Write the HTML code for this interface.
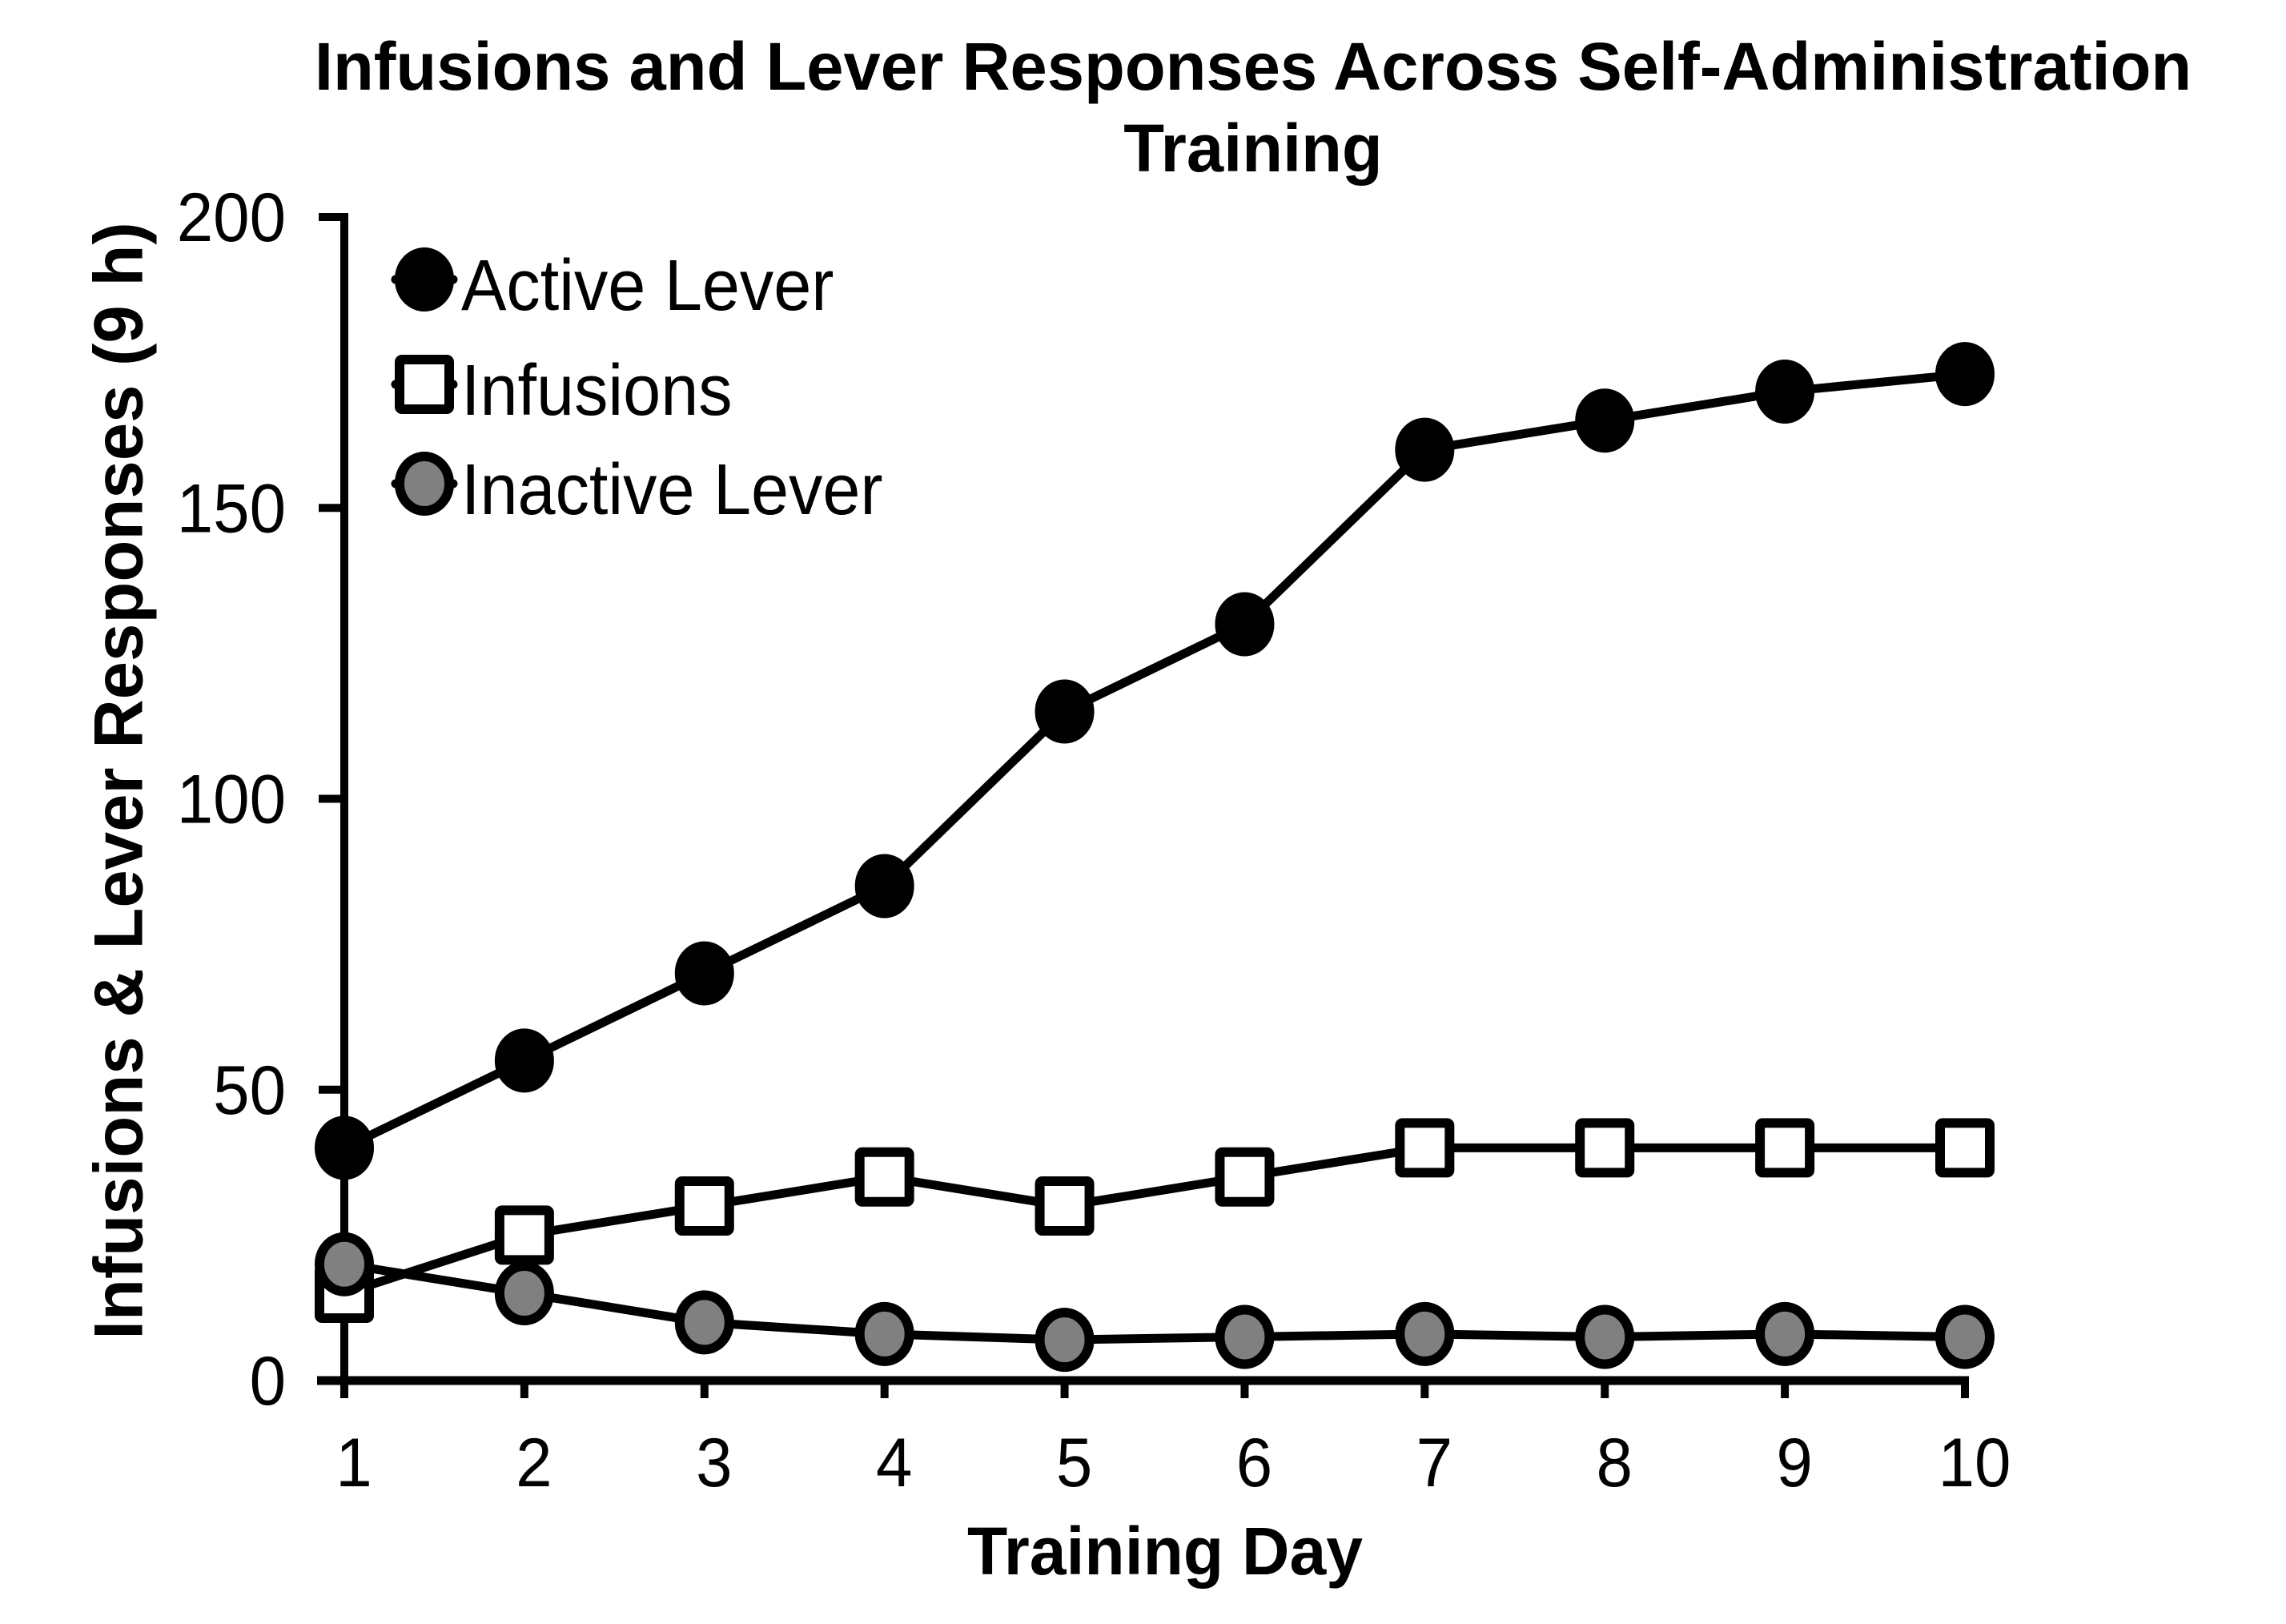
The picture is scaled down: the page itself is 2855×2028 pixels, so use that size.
<!DOCTYPE html>
<html><head><meta charset="utf-8"><style>
html,body{margin:0;padding:0;background:#fff;}
svg{display:block;font-family:"Liberation Sans",Arial,sans-serif;}
</style></head><body>
<svg id="chart" width="2855" height="2028" viewBox="0 0 2855 2028">
<text transform="translate(1565,112) scale(0.99,1)" text-anchor="middle" font-size="84" font-weight="bold">Infusions and Lever Responses Across Self-Administration</text>
<text transform="translate(1565,214) scale(0.99,1)" text-anchor="middle" font-size="84" font-weight="bold">Training</text>
<text transform="translate(1455,1966) scale(0.98,1)" text-anchor="middle" font-size="84" font-weight="bold">Training Day</text>
<text transform="translate(155,975) rotate(-90) scale(0.99,1)" text-anchor="middle" dominant-baseline="middle" font-size="86" font-weight="bold">Infusions &amp; Lever Responses (9 h)</text>
<g id="axes"></g>
<g id="series"></g>
<g id="legend"></g>
</svg>
<script>
const days = [1,2,3,4,5,6,7,8,9,10];
const activeLever = [40,55,70,85,115,130,160,165,170,173];
const infusions = [15,25,30,35,30,35,40,40,40,40];
const inactiveLever = [20,15,10,8,7,7.5,8,7.5,8,7.5];
const yTicks = [0,50,100,150,200];
const xTickLabels = ["1","2","3","4","5","6","7","8","9","10"];

const NS = "http://www.w3.org/2000/svg";
const X0 = 430, X1 = 2454, Y0 = 1724, Y1 = 271;
const xScale = d => X0 + (d - 1) / 9 * (X1 - X0);
const yScale = v => Y0 - v / 200 * (Y0 - Y1);
function mk(tag, attrs, parent){ const e = document.createElementNS(NS, tag); for (const k in attrs) e.setAttribute(k, attrs[k]); parent.appendChild(e); return e; }
const axes = document.getElementById('axes');
const ya = mk('line', {x1:X0,y1:Y1-5,x2:X0,y2:Y0+5,stroke:'#000','stroke-width':10}, axes);


const xa = mk('line', {x1:X0-34,y1:Y0,x2:X1+5,y2:Y0,stroke:'#000','stroke-width':11}, axes);


yTicks.forEach(v => {
  const y = yScale(v);
  mk('line', {x1:X0-32,y1:y,x2:X0,y2:y,stroke:'#000','stroke-width':10}, axes);
  const t = mk('text', {transform:'translate(357,' + (y+30) + ') scale(0.95,1)','text-anchor':'end','font-size':86}, axes);
  t.textContent = v;
  
  
});
days.forEach((d, i) => {
  const x = xScale(d);
  mk('line', {x1:x,y1:Y0,x2:x,y2:Y0+22,stroke:'#000','stroke-width':10}, axes);
  const t = mk('text', {transform:'translate(' + (x+12) + ',1856) scale(0.95,1)','text-anchor':'middle','font-size':86}, axes);
  t.textContent = xTickLabels[i];
  
  
});
const series = document.getElementById('series');
function drawLine(vals, name){
  const pts = days.map((d,i) => xScale(d) + ',' + yScale(vals[i])).join(' ');
  const p = mk('polyline', {points:pts,fill:'none',stroke:'#000','stroke-width':11}, series);
  
  
}
function marker(parent, x, y, type){
  let e;
  if (type === 'square') e = mk('rect', {x:x-31,y:y-31,width:62,height:62,fill:'#fff',stroke:'#000','stroke-width':12,rx:3}, parent);
  else e = mk('ellipse', {cx:x,cy:y,rx:31,ry:34,fill:type==='black'?'#000':'#808080',stroke:'#000','stroke-width':12}, parent);
  return e;
}
drawLine(activeLever, 'active-lever');
drawLine(infusions, 'infusions');
drawLine(inactiveLever, 'inactive-lever');
days.forEach((d,i) => { const m = marker(series, xScale(d), yScale(infusions[i]), 'square');
  
   });
days.forEach((d,i) => { const m = marker(series, xScale(d), yScale(inactiveLever[i]), 'gray');
  
   });
days.forEach((d,i) => { const m = marker(series, xScale(d), yScale(activeLever[i]), 'black');
  
   });
const legend = document.getElementById('legend');
[["Active Lever",'black',349],["Infusions",'square',480],["Inactive Lever",'gray',604]].forEach(([label,type,y]) => {
  const g = mk('g', {}, legend);
  
  
  mk('line', {x1:494,y1:y,x2:566,y2:y,stroke:'#000','stroke-width':11,'stroke-linecap':'round'}, g);
  marker(g, 530, y, type);
  const t = mk('text', {transform:'translate(576,' + (y+38) + ') scale(0.94,1)','font-size':90}, g);
  t.textContent = label;
});
</script>
</body></html>
